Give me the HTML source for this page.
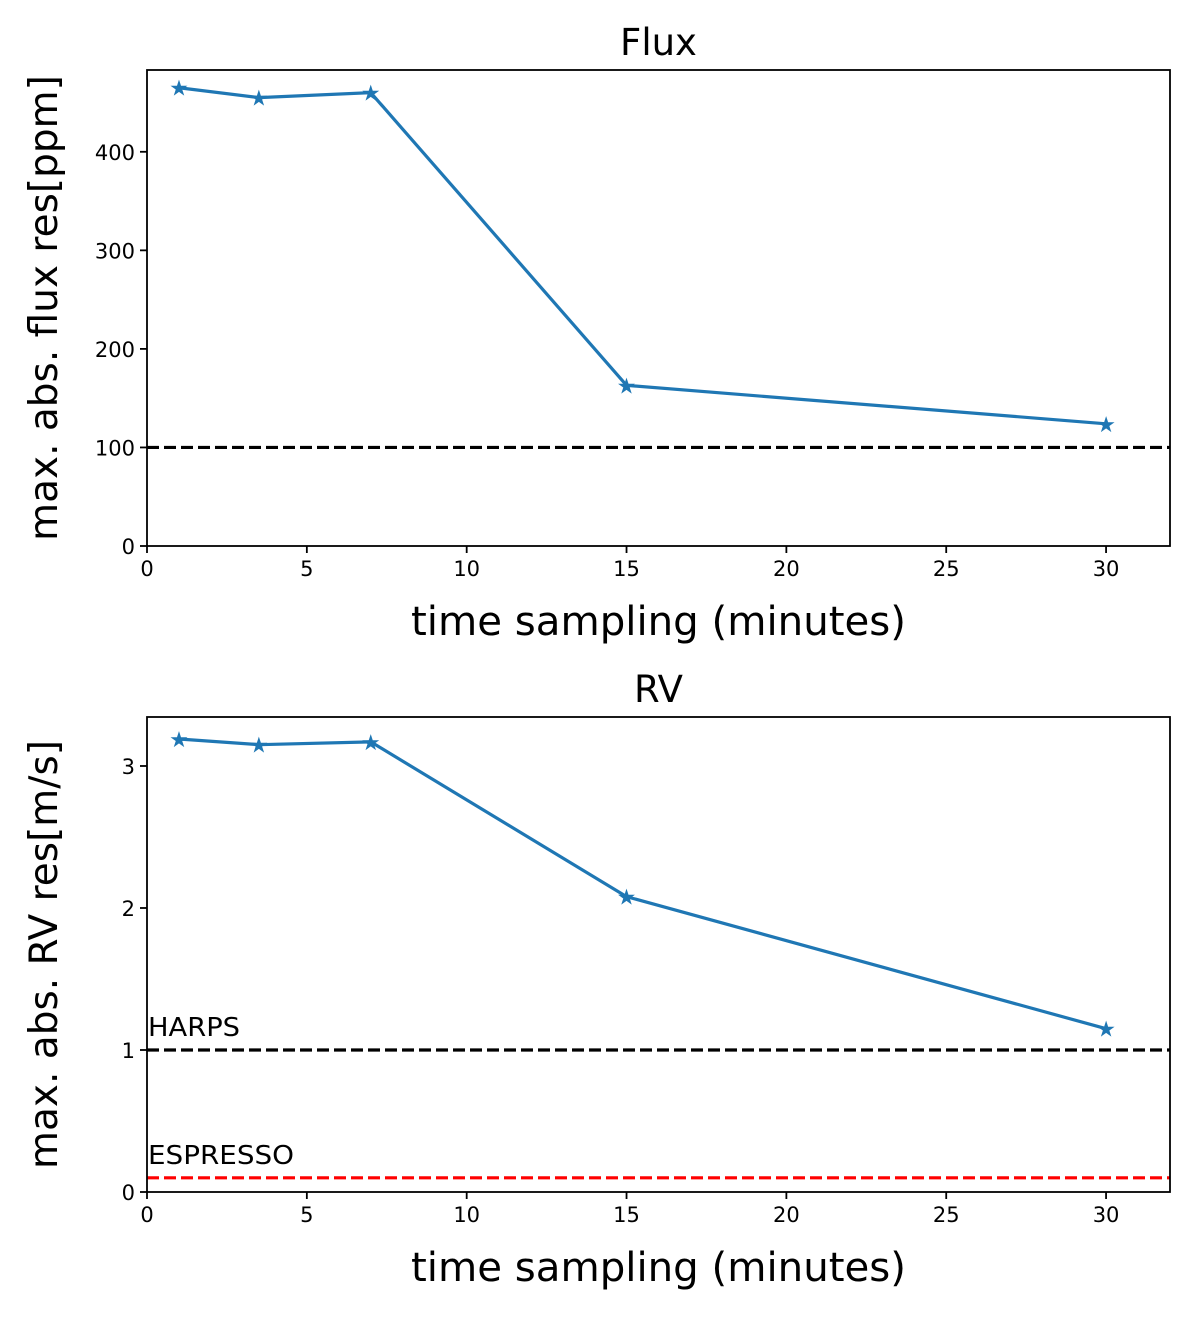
<!DOCTYPE html>
<html><head><meta charset="utf-8"><style>
body{margin:0;background:#fff}
svg text{font-family:"DejaVu Sans","Liberation Sans",sans-serif;fill:#000}
</style></head><body>
<svg id="s" width="1200" height="1313" xmlns="http://www.w3.org/2000/svg"></svg>
<script>
const xs=[1,3.5,7,15,30];
const fluxVals=[465,455,460,163,124];
const rvVals=[3.19,3.15,3.17,2.08,1.15];
const xTicks=[0,5,10,15,20,25,30];
const fluxTicks=[0,100,200,300,400];
const rvTicks=[0,1,2,3];
const NS="http://www.w3.org/2000/svg";
const svg=document.getElementById('s');
function el(t,a,p){const e=document.createElementNS(NS,t);for(const k in a)e.setAttribute(k,a[k]);(p||svg).appendChild(e);return e;}
function panel(name,top,bottom,ymax,vals,yticks,title,ylabel,lines){
  const L=147,R=1170,xmax=32;
  const X=v=>L+(R-L)*v/xmax, Y=v=>bottom-(bottom-top)*v/ymax;
  const g=el('g',{});
  
  
  lines.forEach(l=>{
    const ln=el('line',{x1:L,x2:R,y1:Y(l.v),y2:Y(l.v),stroke:l.c,'stroke-width':3.2,'stroke-dasharray':'12,5'},g);
    
    
    if(l.label){const t=el('text',{x:L+1,y:Y(l.v)-14,'font-size':26,textLength:l.tl,lengthAdjust:'spacingAndGlyphs'},g);t.textContent=l.label;
      
      }
  });
  const pts=xs.map((x,i)=>X(x)+','+Y(vals[i])).join(' ');
  const pl=el('polyline',{points:pts,fill:'none',stroke:'#1f77b4','stroke-width':3.2},g);
  
  
  xs.forEach((x,i)=>{
    const t=el('text',{x:X(x),y:Y(vals[i])+8,'font-size':22,'text-anchor':'middle',style:'fill:#1f77b4'},g);
    t.textContent='★';
    
    
  });
  const fr=el('rect',{x:L,y:top,width:R-L,height:bottom-top,fill:'none',stroke:'#000','stroke-width':1.8},g);
  
  
  xTicks.forEach(v=>{
    el('line',{x1:X(v),x2:X(v),y1:bottom,y2:bottom+7,stroke:'#000','stroke-width':1.8},g);
    const t=el('text',{x:X(v),y:bottom+30,'font-size':21,'text-anchor':'middle'},g);t.textContent=v;
    
    
  });
  yticks.forEach(v=>{
    el('line',{x1:L-7,x2:L,y1:Y(v),y2:Y(v),stroke:'#000','stroke-width':1.8},g);
    const t=el('text',{x:L-12,y:Y(v)+8,'font-size':21,'text-anchor':'end'},g);t.textContent=v;
    
    
  });
  const tt=el('text',{x:(L+R)/2,y:top-15,'font-size':37,'text-anchor':'middle'},g);tt.textContent=title;
  
  
  const xl=el('text',{x:(L+R)/2,y:bottom+89,'font-size':40,'text-anchor':'middle',textLength:495,lengthAdjust:'spacingAndGlyphs'},g);xl.textContent='time sampling (minutes)';
  
  
  const yl=el('text',{x:0,y:0,'font-size':39,'text-anchor':'middle',transform:`translate(57,${(top+bottom)/2}) rotate(-90)`},g);yl.textContent=ylabel;
  
  
}
panel('flux',70,546,483,fluxVals,fluxTicks,'Flux','max. abs. flux res[ppm]',[{v:100,c:'#000',n:'threshold'}]);
panel('rv',717,1192,3.345,rvVals,rvTicks,'RV','max. abs. RV res[m/s]',[{v:1,c:'#000',n:'harps',label:'HARPS',tl:92},{v:0.1,c:'#ff0000',n:'espresso',label:'ESPRESSO',tl:146}]);
</script>
</body></html>
